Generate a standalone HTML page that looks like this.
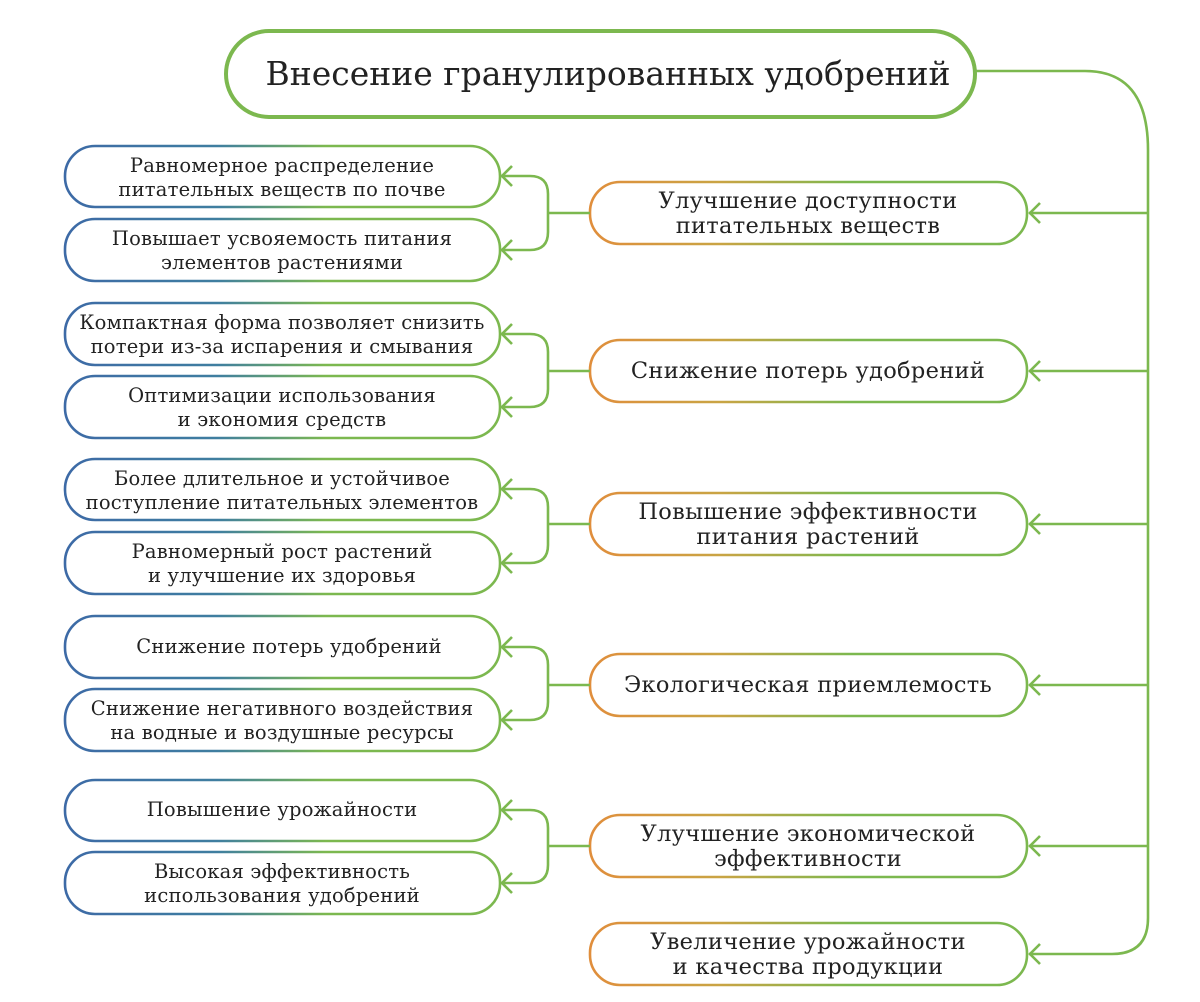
<!DOCTYPE html>
<html><head><meta charset="utf-8"><style>
html,body{margin:0;padding:0;background:#fff;}
svg{display:block;}
text{font-family:"DejaVu Serif","Liberation Serif",serif;fill:#222;text-anchor:middle;}
.l{font-size:19.5px;letter-spacing:0.2px;}
.m{font-size:22.5px;letter-spacing:0.3px;}
</style></head><body>
<svg width="1200" height="1002" viewBox="0 0 1200 1002">
<defs>
<linearGradient id="bg" x1="0" y1="0" x2="1" y2="0">
<stop offset="0" stop-color="#3d6aa6"/><stop offset="0.35" stop-color="#3f7ea0"/><stop offset="0.6" stop-color="#7cb84f"/><stop offset="1" stop-color="#7cb84f"/></linearGradient>
<linearGradient id="og" x1="0" y1="0" x2="1" y2="0">
<stop offset="0" stop-color="#e08e3c"/><stop offset="0.3" stop-color="#c9a444"/><stop offset="0.6" stop-color="#7cb84f"/><stop offset="1" stop-color="#7cb84f"/></linearGradient>
</defs>
<g fill="none" stroke-width="2.6">
<rect x="226" y="31" width="749" height="86" rx="43" stroke="#7cb84f" stroke-width="4"/>
<g stroke="url(#bg)">
<rect x="65" y="146" width="435" height="61" rx="30"/>
<rect x="65" y="219" width="435" height="62" rx="30"/>
<rect x="65" y="303" width="435" height="62" rx="30"/>
<rect x="65" y="376" width="435" height="62" rx="30"/>
<rect x="65" y="459" width="435" height="61" rx="30"/>
<rect x="65" y="532" width="435" height="62" rx="30"/>
<rect x="65" y="616" width="435" height="62" rx="30"/>
<rect x="65" y="689" width="435" height="62" rx="30"/>
<rect x="65" y="780" width="435" height="61" rx="30"/>
<rect x="65" y="852" width="435" height="62" rx="30"/>
</g>
<g stroke="url(#og)">
<rect x="590" y="182" width="437" height="62" rx="30"/>
<rect x="590" y="340" width="437" height="62" rx="30"/>
<rect x="590" y="493" width="437" height="62" rx="30"/>
<rect x="590" y="654" width="437" height="62" rx="30"/>
<rect x="590" y="815" width="437" height="62" rx="30"/>
<rect x="590" y="923" width="437" height="62" rx="30"/>
</g>
<g stroke="#7cb84f">
<path d="M501,176 H530 Q548,176 548,194 V232 Q548,250 530,250 H501 M548,213 H590 M512,166 L502,176 L512,186 M512,240 L502,250 L512,260"/>
<path d="M501,334 H530 Q548,334 548,352 V389 Q548,407 530,407 H501 M548,371 H590 M512,324 L502,334 L512,344 M512,397 L502,407 L512,417"/>
<path d="M501,489 H530 Q548,489 548,507 V545 Q548,563 530,563 H501 M548,524 H590 M512,479 L502,489 L512,499 M512,553 L502,563 L512,573"/>
<path d="M501,647 H530 Q548,647 548,665 V702 Q548,720 530,720 H501 M548,685 H590 M512,637 L502,647 L512,657 M512,710 L502,720 L512,730"/>
<path d="M501,810 H530 Q548,810 548,828 V865 Q548,883 530,883 H501 M548,846 H590 M512,800 L502,810 L512,820 M512,873 L502,883 L512,893"/>
<path d="M975,71 H1085 Q1148,71 1148,150 V918 Q1148,954 1112,954 H1029"/>
<path d="M1148,213 H1029 M1148,371 H1029 M1148,524 H1029 M1148,685 H1029 M1148,846 H1029"/>
<path d="M1040,203 L1030,213 L1040,223 M1040,361 L1030,371 L1040,381 M1040,514 L1030,524 L1040,534 M1040,675 L1030,685 L1040,695 M1040,836 L1030,846 L1040,856 M1040,944 L1030,954 L1040,964"/>
</g>
</g>
<text x="608" y="85" style="font-size:33px">Внесение гранулированных удобрений</text>
<g class="l">
<text x="282" y="172">Равномерное распределение</text>
<text x="282" y="196">питательных веществ по почве</text>
<text x="282" y="245">Повышает усвояемость питания</text>
<text x="282" y="269">элементов растениями</text>
<text x="282" y="329">Компактная форма позволяет снизить</text>
<text x="282" y="353">потери из-за испарения и смывания</text>
<text x="282" y="402">Оптимизации использования</text>
<text x="282" y="426">и экономия средств</text>
<text x="282" y="485">Более длительное и устойчивое</text>
<text x="282" y="509">поступление питательных элементов</text>
<text x="282" y="558">Равномерный рост растений</text>
<text x="282" y="582">и улучшение их здоровья</text>
<text x="289" y="653">Снижение потерь удобрений</text>
<text x="282" y="715">Снижение негативного воздействия</text>
<text x="282" y="739">на водные и воздушные ресурсы</text>
<text x="282" y="816">Повышение урожайности</text>
<text x="282" y="878">Высокая эффективность</text>
<text x="282" y="902">использования удобрений</text>
</g>
<g class="m">
<text x="808" y="208">Улучшение доступности</text>
<text x="808" y="233">питательных веществ</text>
<text x="808" y="378">Снижение потерь удобрений</text>
<text x="808" y="519">Повышение эффективности</text>
<text x="808" y="544">питания растений</text>
<text x="808" y="692">Экологическая приемлемость</text>
<text x="808" y="841">Улучшение экономической</text>
<text x="808" y="866">эффективности</text>
<text x="808" y="949">Увеличение урожайности</text>
<text x="808" y="974">и качества продукции</text>
</g>
</svg>
</body></html>
